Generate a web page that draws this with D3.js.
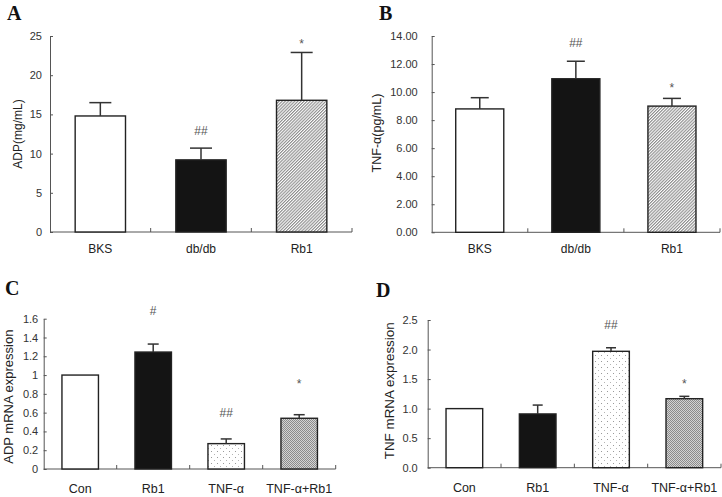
<!DOCTYPE html>
<html><head><meta charset="utf-8">
<script src="https://cdn.jsdelivr.net/npm/d3@7/dist/d3.min.js"></script>
<style>
html,body{margin:0;padding:0;background:#fff;}
svg{display:block;}
text{font-family:Arial,Helvetica,"Liberation Sans",sans-serif;}
text.letter{font-family:"Times New Roman","Liberation Serif",serif;font-weight:bold;}
</style></head>
<body><svg id="c" width="722" height="497"></svg>
<script>
// ---- data ----
const catsAB = ["BKS", "db/db", "Rb1"];
const catsCD = ["Con", "Rb1", "TNF-α", "TNF-α+Rb1"];

const adpSerum = [14.8, 9.2, 16.8];
const adpSerumErr = [1.7, 1.5, 6.1];
const adpSerumSig = ["", "##", "*"];
const adpSerumSigY = [0, 12.4, 23.5];
const adpSerumTicks = [0, 5, 10, 15, 20, 25];

const tnfSerum = [8.8, 10.95, 9.0];
const tnfSerumErr = [0.8, 1.25, 0.55];
const tnfSerumSig = ["", "##", "*"];
const tnfSerumSigY = [0, 13.24, 10.0];
const tnfSerumTicks = [0, 2, 4, 6, 8, 10, 12, 14];

const adpMrna = [1.0, 1.245, 0.27, 0.54];
const adpMrnaErr = [0, 0.085, 0.05, 0.038];
const adpMrnaSig = ["", "#", "##", "*"];
const adpMrnaSigY = [0, 1.64, 0.557, 0.862];
const adpMrnaTicks = [0, 0.2, 0.4, 0.6, 0.8, 1, 1.2, 1.4, 1.6];
const adpMrnaTickLabels = ["0", "0.2", "0.4", "0.6", "0.8", "1", "1.2", "1.4", "1.6"];

const tnfMrna = [1.0, 0.91, 1.97, 1.168];
const tnfMrnaErr = [0, 0.15, 0.06, 0.04];
const tnfMrnaSig = ["", "", "##", "*"];
const tnfMrnaSigY = [0, 0, 2.34, 1.35];
const tnfMrnaTicks = [0, 0.5, 1.0, 1.5, 2.0, 2.5];

const fillsAB = ["#ffffff", "#141414", "url(#hatch)"];
const fillsCD = ["#ffffff", "#141414", "url(#dots)", "url(#check)"];

// ---- drawing ----
const svg = d3.select("#c");
const defs = svg.append("defs");

const hatch = defs.append("pattern").attr("id", "hatch").attr("patternUnits", "userSpaceOnUse")
  .attr("width", 2.2).attr("height", 2.2).attr("patternTransform", "rotate(45)");
hatch.append("rect").attr("width", 2.2).attr("height", 2.2).attr("fill", "#fff");
hatch.append("line").attr("x1", 0.6).attr("y1", 0).attr("x2", 0.6).attr("y2", 2.2)
  .attr("stroke", "#707070").attr("stroke-width", 0.9);

const dots = defs.append("pattern").attr("id", "dots").attr("patternUnits", "userSpaceOnUse")
  .attr("width", 6).attr("height", 6);
dots.append("rect").attr("width", 6).attr("height", 6).attr("fill", "#fff");
dots.append("rect").attr("x", 1).attr("y", 1).attr("width", 1).attr("height", 1).attr("fill", "#9a9a9a");
dots.append("rect").attr("x", 4).attr("y", 4).attr("width", 1).attr("height", 1).attr("fill", "#b5b5b5");

const check = defs.append("pattern").attr("id", "check").attr("patternUnits", "userSpaceOnUse")
  .attr("width", 2).attr("height", 2);
check.append("rect").attr("width", 2).attr("height", 2).attr("fill", "#d4d4d4");
check.append("rect").attr("x", 0).attr("y", 0).attr("width", 1).attr("height", 1).attr("fill", "#8c8c8c");
check.append("rect").attr("x", 1).attr("y", 1).attr("width", 1).attr("height", 1).attr("fill", "#8c8c8c");

function panel(o) {
  const g = svg.append("g");
  const x = d3.scaleBand().domain(o.cats).range([o.left, o.right])
    .paddingInner(0.5).paddingOuter(0.25);
  const y = d3.scaleLinear().domain([0, o.max]).range([o.bottom, o.top]);

  // y axis
  const ya = d3.axisLeft(y).tickValues(o.ticks).tickSizeInner(-3).tickSizeOuter(0)
    .tickPadding(o.tickPad).tickFormat((d, i) => o.tickLabels ? o.tickLabels[i] : o.fmt(d));
  const yg = g.append("g").attr("transform", `translate(${o.left},0)`).call(ya);
  yg.select(".domain").attr("stroke", "#555");
  yg.selectAll(".tick line").attr("stroke", "#555");
  yg.selectAll(".tick text").attr("fill", "#333").attr("font-size", 11);

  // x axis line + ticks at band boundaries
  g.append("line").attr("x1", o.left).attr("x2", o.right).attr("y1", o.bottom).attr("y2", o.bottom)
    .attr("stroke", "#555");
  const step = x.step();
  g.selectAll(".xt").data(o.cats).enter().append("line")
    .attr("x1", (d) => x(d) - step * 0.25 + step).attr("x2", (d) => x(d) - step * 0.25 + step)
    .attr("y1", o.bottom).attr("y2", o.bottom - 4).attr("stroke", "#555");
  g.selectAll(".xl").data(o.cats).enter().append("text")
    .attr("x", (d) => x(d) + x.bandwidth() / 2).attr("y", o.bottom + o.xLabOff)
    .attr("text-anchor", "middle").attr("font-size", o.xSize).attr("fill", "#222").text((d) => d);

  // bars
  g.selectAll(".bar").data(o.vals).enter().append("rect")
    .attr("x", (d, i) => x(o.cats[i])).attr("width", x.bandwidth())
    .attr("y", (d) => y(d)).attr("height", (d) => o.bottom - y(d))
    .attr("fill", (d, i) => o.fills[i]).attr("stroke", "#222").attr("stroke-width", 1.4);

  // error bars
  o.vals.forEach((v, i) => {
    if (!o.errs[i]) return;
    const cx = x(o.cats[i]) + x.bandwidth() / 2;
    g.append("line").attr("x1", cx).attr("x2", cx).attr("y1", y(v)).attr("y2", y(v + o.errs[i]))
      .attr("stroke", "#333").attr("stroke-width", 1.5);
    g.append("line").attr("x1", cx - o.cap / 2).attr("x2", cx + o.cap / 2)
      .attr("y1", y(v + o.errs[i])).attr("y2", y(v + o.errs[i]))
      .attr("stroke", "#333").attr("stroke-width", 1.5);
  });

  // significance marks
  o.sig.forEach((s, i) => {
    if (!s) return;
    g.append("text").attr("x", x(o.cats[i]) + x.bandwidth() / 2).attr("y", y(o.sigY[i]))
      .attr("text-anchor", "middle").attr("font-size", 12).attr("fill", "#555").text(s);
  });

  // y title
  g.append("text").attr("transform", `translate(${o.titleX},${o.titleY}) rotate(-90)`)
    .attr("text-anchor", "middle").attr("dominant-baseline", "central")
    .attr("font-size", o.titleSize).attr("fill", "#222").text(o.title);

  // panel letter
  g.append("text").attr("class", "letter").attr("x", o.letterX).attr("y", o.letterY)
    .attr("font-size", 20).attr("fill", "#111").text(o.letter);
}

panel({cats: catsAB, vals: adpSerum, errs: adpSerumErr, sig: adpSerumSig, sigY: adpSerumSigY,
  ticks: adpSerumTicks, fmt: d3.format("d"), max: 25, fills: fillsAB,
  left: 50, right: 352, top: 36, bottom: 232, tickPad: 8, cap: 22, xLabOff: 21, xSize: 12,
  title: "ADP(mg/mL)", titleX: 17.5, titleY: 134, titleSize: 12,
  letter: "A", letterX: 7, letterY: 20});

panel({cats: catsAB, vals: tnfSerum, errs: tnfSerumErr, sig: tnfSerumSig, sigY: tnfSerumSigY,
  ticks: tnfSerumTicks, fmt: d3.format(".2f"), max: 14, fills: fillsAB,
  left: 431.7, right: 720, top: 36, bottom: 232.3, tickPad: 14, cap: 18, xLabOff: 21, xSize: 12,
  title: "TNF-α(pg/mL)", titleX: 376.5, titleY: 133, titleSize: 12.5,
  letter: "B", letterX: 379, letterY: 20});

panel({cats: catsCD, vals: adpMrna, errs: adpMrnaErr, sig: adpMrnaSig, sigY: adpMrnaSigY,
  ticks: adpMrnaTicks, tickLabels: adpMrnaTickLabels, max: 1.6, fills: fillsCD,
  left: 43.7, right: 335.7, top: 318.7, bottom: 469, tickPad: 5.5, cap: 11, xLabOff: 24, xSize: 12.5,
  title: "ADP mRNA expression", titleX: 8.5, titleY: 396.7, titleSize: 13,
  letter: "C", letterX: 5, letterY: 295});

panel({cats: catsCD, vals: tnfMrna, errs: tnfMrnaErr, sig: tnfMrnaSig, sigY: tnfMrnaSigY,
  ticks: tnfMrnaTicks, fmt: d3.format(".1f"), max: 2.5, fills: fillsCD,
  left: 427.7, right: 721, top: 320, bottom: 467.7, tickPad: 10, cap: 10, xLabOff: 24, xSize: 12.5,
  title: "TNF mRNA expression", titleX: 389, titleY: 390.8, titleSize: 13.4,
  letter: "D", letterX: 376, letterY: 296.5});
</script>
</body></html>
